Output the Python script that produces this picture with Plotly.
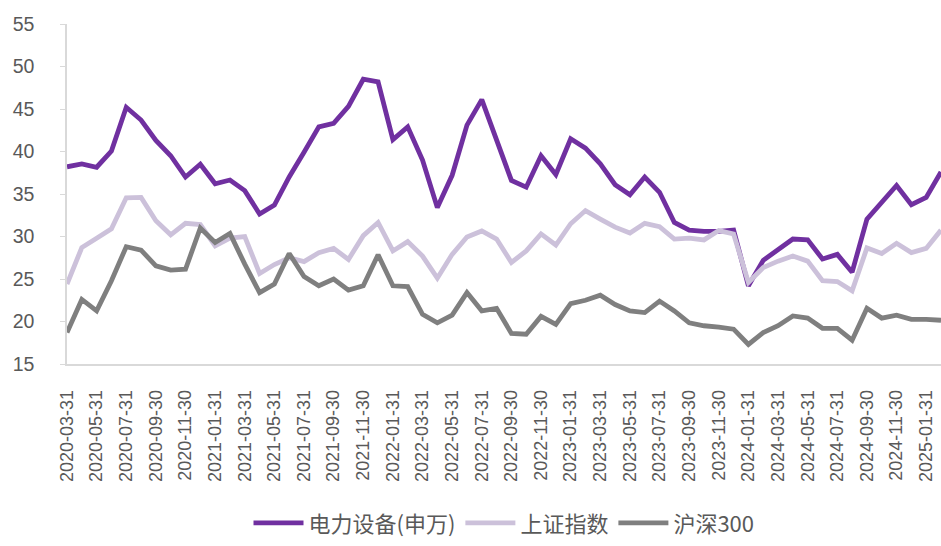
import plotly.graph_objects as go
import pandas as pd

dates = pd.date_range("2020-03-31", periods=60, freq="ME").strftime("%Y-%m-%d").tolist()

power_equipment = [38.2, 38.55, 38.15, 40.05, 45.2, 43.7, 41.3, 39.5, 37.0, 38.5,
                   36.2, 36.65, 35.4, 32.65, 33.7, 37.0, 39.9, 42.9, 43.3, 45.3,
                   48.5, 48.2, 41.4, 42.9, 39.0, 33.4, 37.2, 43.1, 46.1, 41.5,
                   36.6, 35.8, 39.5, 37.3, 41.5, 40.4, 38.55, 36.1, 34.9, 37.0,
                   35.2, 31.65, 30.75, 30.6, 30.6, 30.75, 24.2, 27.2, 28.5, 29.7,
                   29.6, 27.35, 27.9, 25.8, 32.05, 34.0, 36.0, 33.75, 34.6, 37.6]

sse_index = [24.4, 28.7, 29.8, 30.9, 34.55, 34.6, 31.85, 30.2, 31.55, 31.4,
             28.9, 29.8, 30.0, 25.65, 26.7, 27.5, 27.05, 28.1, 28.6, 27.3,
             30.1, 31.65, 28.3, 29.4, 27.7, 25.1, 27.9, 29.95, 30.65, 29.7,
             26.95, 28.3, 30.3, 29.0, 31.5, 33.05, 32.05, 31.1, 30.4, 31.55,
             31.15, 29.7, 29.8, 29.6, 30.7, 30.3, 24.6, 26.35, 27.1, 27.7,
             27.1, 24.8, 24.7, 23.6, 28.65, 28.0, 29.2, 28.1, 28.6, 30.75]

csi300 = [18.7, 22.6, 21.25, 24.8, 28.8, 28.4, 26.55, 26.05, 26.15, 31.0,
          29.3, 30.35, 26.75, 23.4, 24.4, 28.0, 25.3, 24.2, 25.0, 23.7,
          24.2, 27.85, 24.2, 24.1, 20.85, 19.85, 20.75, 23.4, 21.25, 21.55,
          18.6, 18.5, 20.6, 19.65, 22.1, 22.5, 23.1, 22.0, 21.25, 21.05,
          22.4, 21.25, 19.85, 19.5, 19.35, 19.1, 17.3, 18.7, 19.5, 20.65,
          20.4, 19.2, 19.2, 17.8, 21.55, 20.4, 20.75, 20.25, 20.25, 20.15]

series_names = ["电力设备(申万)", "上证指数", "沪深300"]
colors = ["#7030A0", "#CCC1DA", "#7F7F7F"]

tick_labels = dates[::2]
y_ticks = [15, 20, 25, 30, 35, 40, 45, 50, 55]

fig = go.Figure()
for name, vals, col in zip(series_names, [power_equipment, sse_index, csi300], colors):
    fig.add_trace(go.Scatter(x=dates, y=vals, mode="lines", name=name,
                             line=dict(color=col, width=4.8)))

fig.update_layout(
    width=941, height=546,
    margin=dict(l=67, r=0, t=24, b=182),
    paper_bgcolor="white", plot_bgcolor="white",
    font=dict(family="Liberation Sans, Arial", color="#595959"),
    showlegend=True,
    legend=dict(orientation="h", x=0.5, xanchor="center", y=-0.468, yanchor="middle",
                font=dict(family="Noto Sans CJK SC", size=22, color="#595959"),
                itemwidth=50, tracegroupgap=0),
    xaxis=dict(type="category", range=[0, 59], tickmode="array",
               tickvals=tick_labels, ticktext=tick_labels, tickangle=-90,
               tickfont=dict(size=18, color="#595959"),
               showline=True, linecolor="#D9D9D9", linewidth=1.5,
               showgrid=False, zeroline=False, ticks="", ticklabelstandoff=17),
    yaxis=dict(range=[15, 55], tickmode="array", tickvals=y_ticks,
               tickfont=dict(size=19.5, color="#595959"),
               showline=True, linecolor="#D9D9D9", linewidth=1.5,
               ticks="outside", ticklen=5, tickcolor="#D9D9D9",
               ticklabelstandoff=22,
               showgrid=False, zeroline=False),
)

fig.write_html("out.html")
